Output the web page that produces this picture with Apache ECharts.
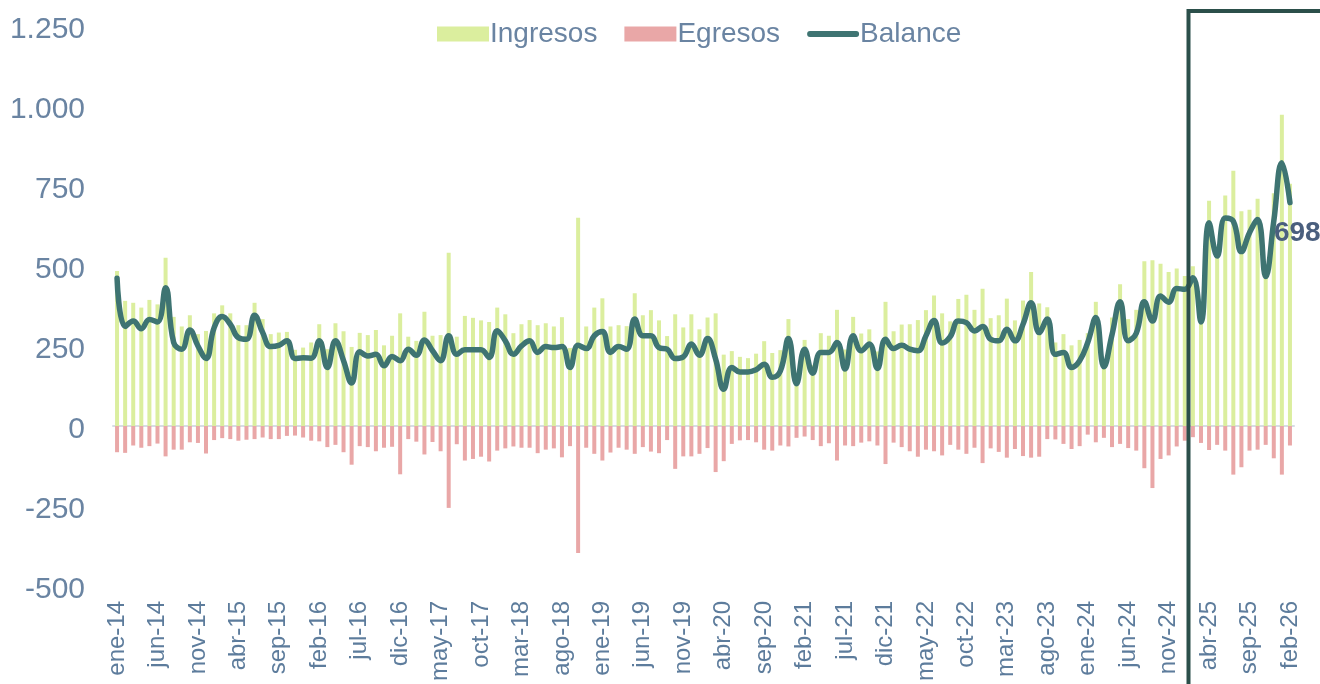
<!DOCTYPE html>
<html>
<head>
<meta charset="utf-8">
<script src="https://cdn.jsdelivr.net/npm/echarts@6/dist/echarts.min.js"></script>
<style>
  html, body { margin: 0; padding: 0; background: #fff; }
  #chart { width: 1320px; height: 684px; }
</style>
</head>
<body>
<div id="chart"></div>
<script>
// meses de ene-14 a feb-26
const monthNames = ['ene', 'feb', 'mar', 'abr', 'may', 'jun', 'jul', 'ago', 'sep', 'oct', 'nov', 'dic']
const years = ['14', '15', '16', '17', '18', '19', '20', '21', '22', '23', '24', '25', '26']
const categories = []
years.forEach(y => monthNames.forEach(m => categories.push(m + '-' + y)))
categories.length = 146

const ingresos = [
  484, 391, 385, 370, 394, 380, 526, 341, 311, 346, 287, 297,
  352, 377, 352, 315, 315, 385, 334, 287, 292, 294, 238, 245,
  261, 318, 240, 321, 296, 247, 291, 284, 300, 252, 282, 352,
  279, 266, 357, 282, 284, 541, 279, 344, 338, 330, 325, 370,
  349, 290, 318, 331, 315, 321, 311, 340, 244, 651, 311, 370,
  399, 311, 315, 312, 415, 346, 362, 330, 281, 349, 308, 349,
  302, 339, 352, 223, 234, 216, 212, 226, 265, 228, 237, 334,
  150, 269, 190, 290, 282, 363, 239, 341, 289, 302, 233, 388,
  296, 317, 318, 331, 362, 408, 352, 327, 397, 410, 363, 429,
  337, 346, 398, 330, 392, 481, 383, 371, 261, 287, 252, 269,
  290, 388, 205, 339, 443, 334, 363, 515, 518, 507, 481, 492,
  469, 499, 345, 704, 545, 720, 798, 671, 676, 710, 484, 727,
  973, 757
]

const egresos = [
  -82, -84, -61, -68, -63, -55, -95, -74, -74, -51, -53, -86,
  -44, -38, -41, -46, -43, -41, -36, -41, -41, -31, -30, -36,
  -46, -48, -66, -59, -82, -121, -63, -66, -79, -68, -65, -151,
  -41, -49, -89, -50, -79, -256, -57, -108, -103, -96, -111, -77,
  -70, -64, -68, -68, -85, -74, -70, -98, -63, -397, -68, -87,
  -108, -83, -68, -74, -87, -66, -80, -85, -44, -134, -95, -95,
  -87, -69, -144, -110, -56, -45, -44, -51, -74, -77, -61, -64,
  -37, -33, -44, -63, -54, -108, -61, -63, -52, -48, -61, -119,
  -52, -66, -79, -96, -74, -79, -92, -59, -74, -87, -68, -116,
  -70, -81, -99, -72, -94, -99, -96, -41, -42, -56, -72, -63,
  -27, -51, -37, -66, -56, -69, -77, -132, -194, -103, -92, -64,
  -46, -35, -53, -75, -59, -77, -152, -129, -77, -74, -59, -101,
  -152, -61
]

const balance = [
  462, 311, 328, 304, 333, 325, 432, 261, 240, 300, 250, 211,
  307, 342, 318, 276, 271, 346, 292, 248, 252, 266, 211, 213,
  212, 266, 183, 266, 204, 134, 232, 219, 224, 188, 217, 204,
  240, 221, 269, 235, 204, 282, 224, 238, 238, 238, 214, 298,
  266, 224, 250, 266, 230, 248, 245, 248, 183, 252, 242, 282,
  295, 230, 248, 240, 334, 282, 282, 245, 240, 211, 216, 256,
  221, 273, 209, 115, 183, 169, 169, 176, 193, 152, 172, 273,
  132, 240, 165, 230, 230, 261, 178, 282, 235, 256, 180, 271,
  242, 252, 240, 235, 282, 330, 259, 279, 328, 323, 297, 311,
  271, 266, 302, 266, 318, 385, 292, 334, 224, 230, 183, 204,
  261, 339, 185, 285, 388, 266, 290, 388, 328, 406, 387, 430,
  427, 463, 325, 635, 531, 650, 640, 545, 604, 645, 467, 640,
  823, 698
]

const yTicks = { min: -500, max: 1250, interval: 250 }

const textColor = '#6a84a2'
const axisGray = '#d7dde6'
const narrow = 'Liberation Sans Narrow, Liberation Sans, sans-serif'

function fmtMiles(v) {
  return '{n|' + String(v).replace(/\B(?=(\d{3})+(?!\d))/g, '.') + '}'
}

const chart = echarts.init(document.getElementById('chart'))
chart.setOption({
  animation: false,
  grid: { left: 113, right: 26, top: 26, bottom: 96 },
  legend: {
    left: 432,
    top: 15,
    itemWidth: 52,
    itemHeight: 15,
    itemGap: 27,
    textStyle: { color: textColor, fontSize: 28, fontFamily: narrow, padding: [0, 0, 0, -4] },
    data: [
      { name: 'Ingresos', icon: 'rect' },
      { name: 'Egresos', icon: 'rect' },
      { name: 'Balance', icon: 'path://M3,0 H51 A3,3 0 0 1 51,6 H3 A3,3 0 0 1 3,0 Z' }
    ]
  },
  xAxis: [
    {
      type: 'category',
      data: categories,
      axisLine: { show: false, onZero: false },
      axisTick: { show: false },
      axisLabel: {
        interval: 4,
        rotate: 90,
        margin: 15,
        color: '#5d7c9c',
        fontSize: 24,
        fontFamily: 'Liberation Sans, Arial, sans-serif'
      }
    },
    {
      type: 'category',
      position: 'bottom',
      data: categories,
      axisLine: { onZero: true, lineStyle: { color: axisGray, width: 2 } },
      axisTick: { interval: 4, length: 8, lineStyle: { color: axisGray, width: 2 } },
      axisLabel: { show: false }
    }
  ],
  yAxis: {
    type: 'value',
    min: yTicks.min,
    max: yTicks.max,
    interval: yTicks.interval,
    splitLine: { show: false },
    axisLine: { show: false },
    axisTick: { show: false },
    axisLabel: {
      margin: 28,
      formatter: fmtMiles,
      rich: {
        n: {
          color: textColor,
          fontSize: 30,
          fontFamily: narrow,
          padding: [8, 0, 0, 0]
        }
      }
    }
  },
  series: [
    {
      name: 'Ingresos',
      type: 'bar',
      data: ingresos,
      barWidth: 4,
      barGap: '-100%',
      itemStyle: { color: '#dbee9e' }
    },
    {
      name: 'Egresos',
      type: 'bar',
      data: egresos,
      barWidth: 4,
      itemStyle: { color: '#e9a7a7' }
    },
    {
      name: 'Balance',
      type: 'line',
      data: balance,
      smooth: 0.45,
      symbol: 'none',
      lineStyle: { color: '#3e7472', width: 5.5, cap: 'round' },
      itemStyle: { color: '#3e7472' },
      z: 5,
      endLabel: {
        show: true,
        formatter: '{c}',
        offset: [-24, 31],
        color: '#4a5f7e',
        fontSize: 28,
        fontWeight: 'bold',
        fontFamily: narrow
      }
    }
  ],
  graphic: [
    {
      type: 'rect',
      z: 100,
      shape: { x: 1188.5, y: 11, width: 200, height: 720 },
      style: { fill: null, stroke: '#2b4f4a', lineWidth: 4 }
    }
  ]
})
</script>
</body>
</html>
